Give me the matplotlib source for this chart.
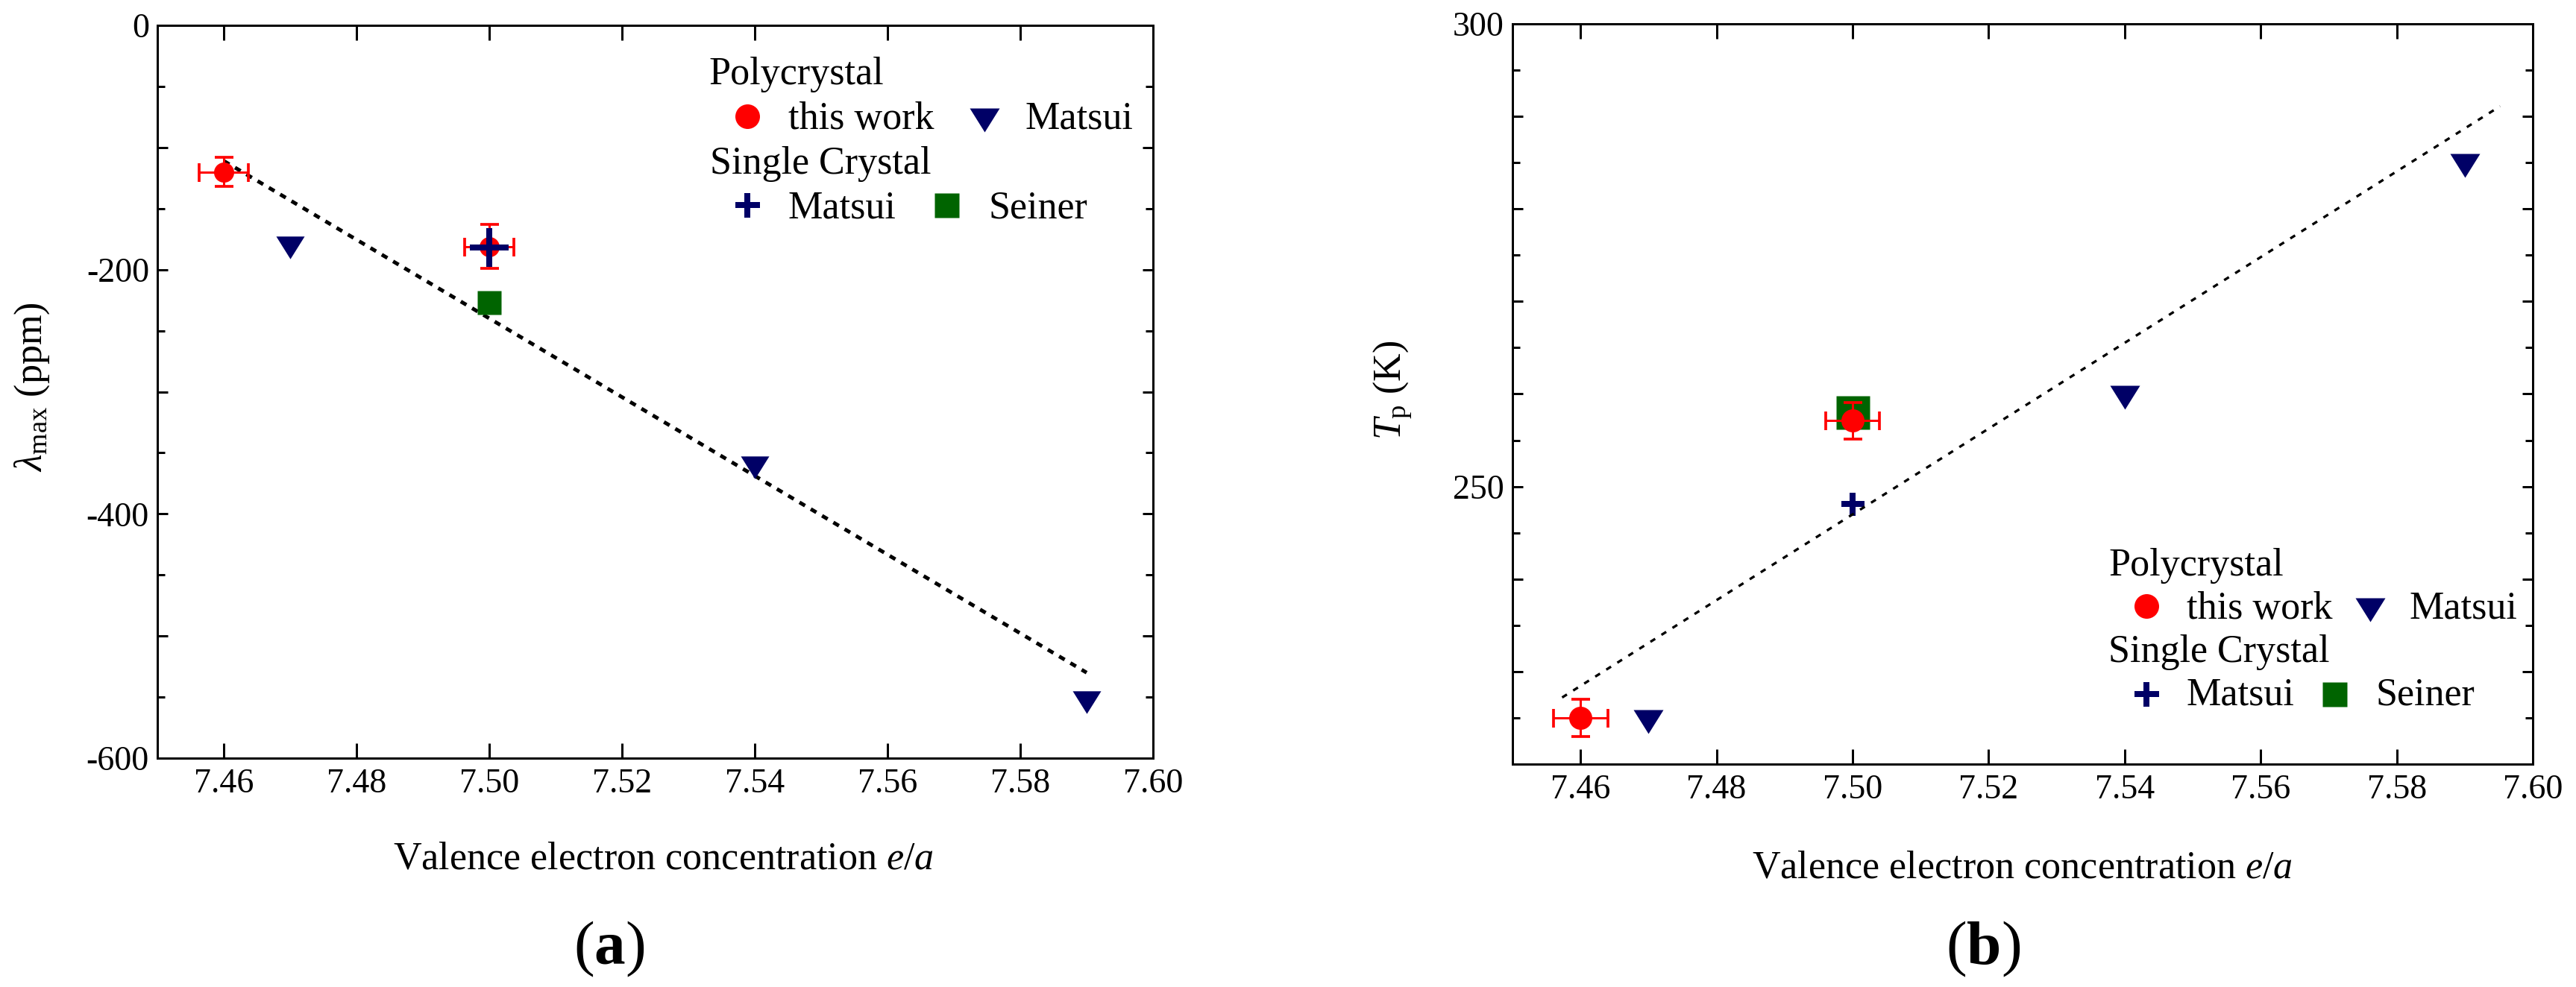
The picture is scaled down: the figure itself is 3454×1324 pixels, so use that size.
import matplotlib
matplotlib.use('Agg')
import matplotlib.pyplot as plt
from matplotlib.ticker import MultipleLocator, FuncFormatter, FormatStrFormatter

plt.rcParams['font.family'] = ['Liberation Serif', 'DejaVu Serif']
plt.rcParams['mathtext.fontset'] = 'custom'
plt.rcParams['mathtext.rm'] = 'Liberation Serif'
plt.rcParams['mathtext.it'] = 'Liberation Serif:italic'
plt.rcParams['mathtext.bf'] = 'Liberation Serif:bold'
plt.rcParams['axes.unicode_minus'] = False

# ---- data, panel (a): magnetostriction ----
ea_work = [7.46, 7.50]
lam_work = [-120, -181]
lam_work_err = [12, 18]
ea_err_a = 0.0037

ea_matsui_poly = [7.47, 7.54, 7.59]
lam_matsui_poly = [-182, -362, -554]

ea_matsui_single = [7.50]
lam_matsui_single = [-182]

ea_seiner = [7.50]
lam_seiner = [-227]

fit_a_x = [7.46, 7.59]
fit_a_y = [-111, -530]

# ---- data, panel (b): transition temperature ----
tp_work = [225.0, 257.1]
tp_work_err = [2, 2]
ea_err_b = 0.004

tp_matsui_poly = [224.6, 259.6, 284.7]
tp_matsui_single = [248.1]
tp_seiner = [258.0]

fit_b_x = [7.4573, 7.5952]
fit_b_y = [227.2, 291.1]

legend_groups = ['Polycrystal', 'Single Crystal']
legend_labels = ['this work', 'Matsui', 'Matsui', 'Seiner']

RED = '#ff0000'
NAVY = '#000066'
GREEN = '#006400'
PX = 0.72  # points per pixel at dpi 100

TRI = [(-1, 0.8), (1, 0.8), (0, -0.8)]

W, H = 3455, 1324
fig = plt.figure(figsize=(W / 100, H / 100), dpi=100)
ax_a = fig.add_axes([211 / W, 1 - 1017 / H, 1335 / W, 983 / H])
ax_b = fig.add_axes([2028 / W, 1 - 1025 / H, 1368 / W, 993 / H])

TICK_FS = 33
LABEL_FS = 37.5


def style_axes(ax, ymaj, ymin, ylab_step):
    for sp in ax.spines.values():
        sp.set_linewidth(3 * PX)
    ax.set_xlim(7.45, 7.60)
    ax.xaxis.set_major_locator(MultipleLocator(0.02))
    ax.xaxis.set_major_formatter(FormatStrFormatter('%.2f'))
    ax.yaxis.set_major_locator(MultipleLocator(ymaj))
    ax.yaxis.set_minor_locator(MultipleLocator(ymin))
    ax.yaxis.set_major_formatter(FuncFormatter(
        lambda v, p: f'{v:.0f}' if round(v) % ylab_step == 0 else ''))
    ax.tick_params(which='both', direction='in', top=True, right=True,
                   width=3 * PX, labelsize=TICK_FS)
    ax.tick_params(axis='x', which='major', length=20 * PX, pad=10)
    ax.tick_params(axis='y', which='major', length=14 * PX, pad=8)
    ax.tick_params(axis='y', which='minor', length=10 * PX)


def draw_legend(ax, pos):
    t = ax.transAxes
    kw = dict(transform=t, fontsize=LABEL_FS, va='baseline', ha='left')
    ax.text(*pos['g0'], legend_groups[0], **kw)
    ax.text(*pos['g1'], legend_groups[1], **kw)
    for key, lab in zip(['t0', 't1', 't2', 't3'], legend_labels):
        ax.text(*pos[key], lab, **kw)
    mk = dict(transform=t, clip_on=False, linestyle='none')
    ax.plot(*pos['m0'], marker='o', ms=33 * PX, color=RED, mec='none', **mk)
    ax.plot(*pos['m1'], marker=TRI, ms=40 * PX, color=NAVY, mec='none', **mk)
    ax.plot(*pos['m2'], marker='+', ms=33 * PX, mew=8 * PX, color=NAVY, **mk)
    ax.plot(*pos['m3'], marker='s', ms=33 * PX, color=GREEN, mec='none', **mk)


# ---------------- panel (a) ----------------
ax = ax_a
style_axes(ax, 100, 50, 200)
ax.set_ylim(-600, 0)
ax.plot(fit_a_x, fit_a_y, color='black', lw=5 * PX,
        linestyle=(0, (1.74, 1.78)), zorder=2)
ax.plot(ea_seiner, lam_seiner, 's', ms=32 * PX, color=GREEN, mec='none', zorder=3)
ax.plot(ea_matsui_poly, lam_matsui_poly, linestyle='none', marker=TRI,
        ms=38 * PX, color=NAVY, mec='none', zorder=3)
ax.errorbar(ea_work, lam_work, xerr=ea_err_a, yerr=lam_work_err, fmt='o',
            ms=27 * PX, color=RED, mec='none', elinewidth=3 * PX,
            capsize=12.5 * PX, capthick=3.7 * PX, zorder=4)
ax.plot(ea_matsui_single, lam_matsui_single, '+', ms=53 * PX, mew=8 * PX,
        color=NAVY, zorder=5)
ax.set_xlabel('Valence electron concentration $e$/$a$', fontsize=LABEL_FS)
ax.xaxis.label.set_va('baseline')
ax.xaxis.set_label_coords(0.508, -0.1506)
ax.set_ylabel(r'$\lambda_{\rm max}$ (ppm)', fontsize=LABEL_FS)
ax.yaxis.set_label_coords(-0.106, 0.507)
draw_legend(ax, {
    'g0': (0.5536, 0.9196), 'g1': (0.5547, 0.7976),
    't0': (0.6337, 0.8586), 't1': (0.8712, 0.8586),
    't2': (0.6337, 0.7375), 't3': (0.8345, 0.7375),
    'm0': (0.5925, 0.8759), 'm1': (0.8307, 0.8708),
    'm2': (0.5925, 0.7548), 'm3': (0.7925, 0.7548),
})

# ---------------- panel (b) ----------------
ax = ax_b
style_axes(ax, 10, 5, 50)
ax.set_ylim(220, 300)
ax.plot(ea_seiner, tp_seiner, 's', ms=45 * PX, color=GREEN, mec='none', zorder=2)
ax.plot(ea_matsui_poly, tp_matsui_poly, linestyle='none', marker=TRI,
        ms=40 * PX, color=NAVY, mec='none', zorder=3)
ax.errorbar(ea_work, tp_work, xerr=ea_err_b, yerr=tp_work_err, fmt='o',
            ms=31 * PX, color=RED, mec='none', elinewidth=3 * PX,
            capsize=12.5 * PX, capthick=3.7 * PX, zorder=3)
ax.plot(ea_matsui_single, tp_matsui_single, '+', ms=31 * PX, mew=8 * PX,
        color=NAVY, zorder=4)
ax.plot(fit_b_x, fit_b_y, color='black', lw=3.3 * PX,
        linestyle=(0, (2.3, 3.0)), zorder=5)
ax.set_xlabel('Valence electron concentration $e$/$a$', fontsize=LABEL_FS)
ax.xaxis.label.set_va('baseline')
ax.xaxis.set_label_coords(0.5, -0.1531)
ax.set_ylabel(r'$T_{\rm p}$ (K)', fontsize=LABEL_FS)
ax.yaxis.set_label_coords(-0.0965, 0.505)
draw_legend(ax, {
    'g0': (0.5841, 0.2548), 'g1': (0.5841, 0.1380),
    't0': (0.6608, 0.1964), 't1': (0.8787, 0.1964),
    't2': (0.6608, 0.0796), 't3': (0.8458, 0.0796),
    'm0': (0.6213, 0.2135), 'm1': (0.8406, 0.2085),
    'm2': (0.6213, 0.0947), 'm3': (0.8056, 0.0947),
})

# panel tags
fig.text(817 / W, 1 - 1293 / H, r'($\mathbf{a}$)', fontsize=60,
         ha='center', va='baseline')
fig.text(2659 / W, 1 - 1293 / H, r'($\mathbf{b}$)', fontsize=60,
         ha='center', va='baseline')

fig.savefig('out.png', dpi=100)
